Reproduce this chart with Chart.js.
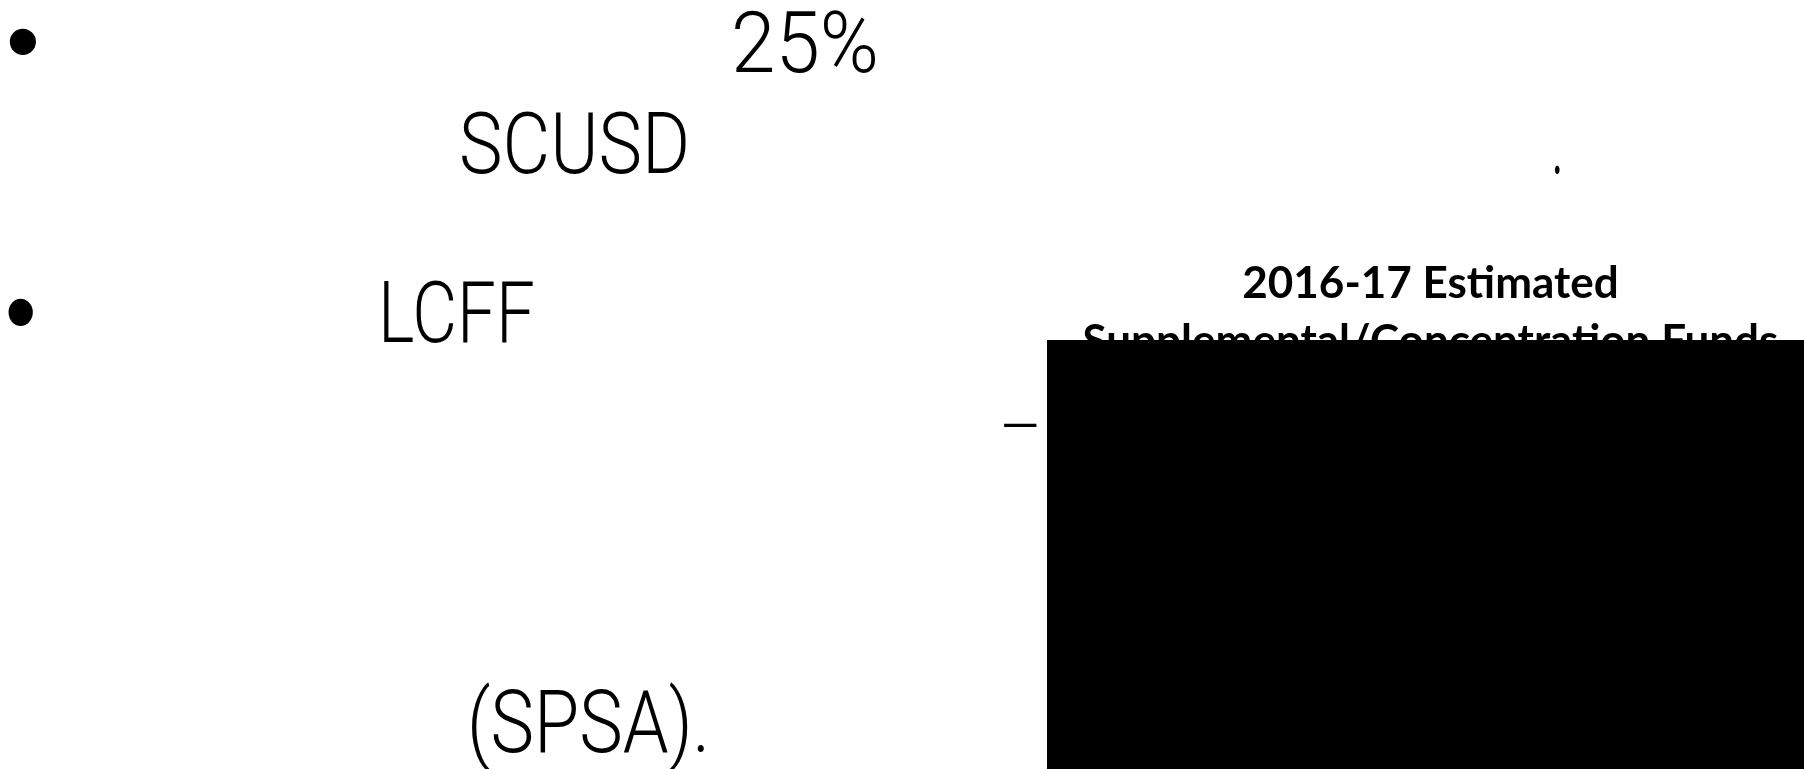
<!DOCTYPE html>
<html>
<head>
<meta charset="utf-8">
<title>2016-17 Estimated Supplemental/Concentration Funds</title>
<script src="https://cdn.jsdelivr.net/npm/chart.js@4.4.1/dist/chart.umd.min.js"></script>
<style>
  html, body { margin: 0; padding: 0; background: #fff; }
  body { width: 1804px; height: 769px; overflow: hidden; position: relative; }
  .txt { position: absolute; white-space: nowrap; color: #000; transform-origin: 0 0; }
  .chart-wrapper { position: absolute; left: 1047px; top: 240px; width: 767px; height: 529px; }
</style>
</head>
<body>
<div id="slide"></div>
<div class="chart-wrapper"><canvas id="myChart"></canvas></div>
<script>
// chart data
const titleLines = ["2016-17 Estimated", "Supplemental/Concentration Funds"];
const categories = ["Supplemental/Concentration Funds"];
const fundShare = [100];
const axisMax = [100];

// slide text around the chart: ink box in page pixels
// cap: x0..x1 wide, capital height capH on baseline; box: fit ink to x0..x1, y0..y1
const slideText = [
  { t: "\u2022", mode: "box", x0: 9, x1: 37, y0: 28, y1: 55, font: "Liberation Sans", w: 400 },
  { t: "25%", mode: "cap", x0: 735, x1: 875, base: 72, capH: 60 },
  { t: "SCUSD", mode: "cap", x0: 462, x1: 686, base: 173, capH: 60 },
  { t: ".", mode: "box", x0: 1555, x1: 1560, y0: 165, y1: 174 },
  { t: "\u2022", mode: "box", x0: 8, x1: 34, y0: 298, y1: 326, font: "Liberation Sans", w: 400 },
  { t: "LCFF", mode: "cap", x0: 384, x1: 533, base: 342, capH: 60 },
  { t: "\u2013", mode: "box", x0: 1004, x1: 1037, y0: 422, y1: 426 },
  { t: "(SPSA).", mode: "cap", x0: 471, x1: 704, base: 752, capH: 62 }
];

function placeText() {
  const slide = document.getElementById("slide");
  const mctx = document.createElement("canvas").getContext("2d");
  const REF = 100;
  slideText.forEach(it => {
    const fam = it.font || "Roboto";
    const wt = it.w || 300;
    mctx.font = wt + " " + REF + "px '" + fam + "'";
    const m = mctx.measureText(it.t);
    let size, base;
    if (it.mode === "cap") {
      const h = mctx.measureText("H").actualBoundingBoxAscent;
      size = REF * it.capH / h;
      base = it.base;
    } else {
      const h = m.actualBoundingBoxAscent + m.actualBoundingBoxDescent;
      size = REF * (it.y1 - it.y0) / h;
      base = it.y0 + m.actualBoundingBoxAscent * size / REF;
    }
    const f = size / REF;
    const inkL = m.actualBoundingBoxLeft * f;
    const inkW = (m.actualBoundingBoxLeft + m.actualBoundingBoxRight) * f;
    const k = (it.x1 - it.x0) / inkW;

    const d = document.createElement("div");
    d.className = "txt";
    d.style.font = wt + " " + size + "px '" + fam + "'";
    d.style.lineHeight = "1";
    d.textContent = it.t;
    const probe = document.createElement("i");
    probe.style.cssText = "display:inline-block;width:0;height:0";
    d.appendChild(probe);
    d.style.left = "0px";
    d.style.top = "0px";
    slide.appendChild(d);
    const off = probe.getBoundingClientRect().top - d.getBoundingClientRect().top;
    d.style.top = (base - off) + "px";
    d.style.left = (it.x0 + inkL * k) + "px";
    d.style.transform = "scaleX(" + k + ")";
  });
}

function drawChart() {
  const ctx = document.getElementById("myChart");
  new Chart(ctx, {
    type: "bar",
    data: {
      labels: categories,
      datasets: [
        {
          label: "2016-17 Estimated",
          data: fundShare,
          backgroundColor: "#000000",
          borderColor: "#000000",
          borderWidth: 0,
          barPercentage: 1,
          categoryPercentage: 1,
        },
      ],
    },
    options: {
      responsive: true,
      maintainAspectRatio: false,
      animation: false,
      layout: { padding: 0 },
      scales: {
        x: { display: false },
        y: { display: false, min: 0, max: axisMax[0] },
      },
      plugins: {
        legend: { display: false },
        tooltip: { enabled: false },
        title: {
          display: true,
          text: titleLines,
          color: "#000",
          font: { family: "Lato", weight: "bold", size: 44, lineHeight: 58 / 44 },
          padding: { top: 15, bottom: -31 },
        },
      },
    },
  });
}

Promise.all([
  document.fonts.load("300 84px Roboto"),
  document.fonts.load("bold 44px Lato"),
  document.fonts.load("400 40px 'Liberation Sans'"),
]).catch(() => {}).then(() => {
  placeText();
  drawChart();
});
</script>
</body>
</html>
